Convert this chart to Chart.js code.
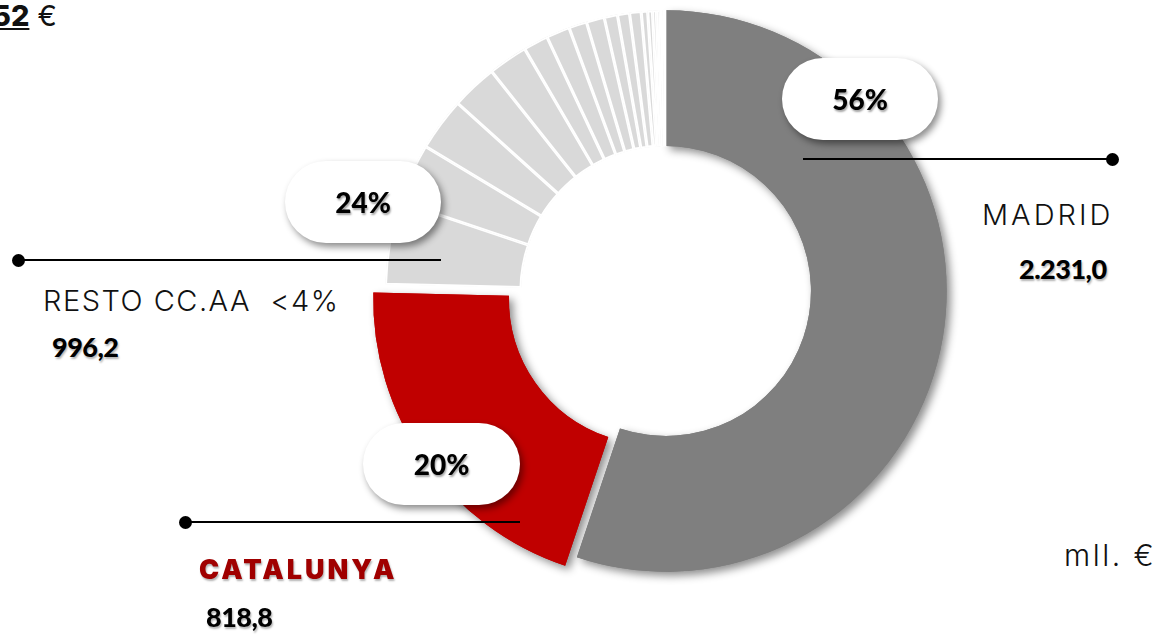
<!DOCTYPE html>
<html>
<head>
<meta charset="utf-8">
<script src="https://cdn.jsdelivr.net/npm/chart.js@4.4.1/dist/chart.umd.min.js"></script>
<style>
  html, body { margin: 0; padding: 0; background: #fff; width: 1157px; height: 639px; overflow: hidden; position: relative; font-family: Lato, sans-serif; }
  #wrap { position: absolute; left: 366px; top: -9px; width: 600px; height: 600px; }
  .pill { position: absolute; background: #fff; border-radius: 42px; box-shadow: 3px 4px 7px rgba(0,0,0,.45);
          display: flex; align-items: center; justify-content: center; font-weight: 900; font-size: 28px; color: #000;
          text-shadow: 1px 2px 2px rgba(0,0,0,.35); }
  .lead { position: absolute; height: 2px; background: #000; }
  .dot { position: absolute; width: 13px; height: 13px; border-radius: 50%; background: #000; }
  .lbl { position: absolute; font-family: Inter, sans-serif; font-weight: 300; font-size: 29px; color: #111; white-space: nowrap; letter-spacing: 1.5px; }
  .val { position: absolute; font-family: Lato, sans-serif; font-weight: 900; font-size: 27px; color: #000; white-space: nowrap;
         text-shadow: 1px 2px 2px rgba(0,0,0,.3); letter-spacing: -0.5px; }
</style>
</head>
<body>
<div id="wrap"><canvas id="donut"></canvas></div>
<div id="overlay"></div>
<script>
// ── data (mll. €) ───────────────────────────────────────────
const mainLabels = ['MADRID', 'CATALUNYA'];
const mainValues = [2231.0, 818.8];
const restoTotal = 996.2;
// small communities making up "RESTO CC.AA <4%"
const restoValues = [193, 140, 124, 107, 92, 58, 55, 42, 42, 31, 28, 27, 15, 11, 9, 8, 7, 7.2];
const restoLabels = restoValues.map((v, i) => 'Resto CC.AA ' + (i + 1));
const pctLabels = ['56%', '20%', '24%'];
const valueLabels = ['2.231,0', '818,8', '996,2'];

const GRAY = '#7f7f7f', RED = '#c00000', LIGHT = '#d9d9d9';

const labels = mainLabels.concat(restoLabels);
const values = mainValues.concat(restoValues);
const colors = [GRAY, RED].concat(restoValues.map(() => LIGHT));
const borders = [0, 0].concat(restoValues.map(() => 1.6));
// chart.js v4 draws offset / 4, so 56 pulls Catalunya out ~14px
const offsets = [0, 56].concat(restoValues.map(() => 0));

// shadow under Madrid and Catalunya
const shadowPlugin = {
  id: 'sliceShadow',
  beforeDatasetsDraw(chart) {
    const ctx = chart.ctx;
    const arcs = chart.getDatasetMeta(0).data;
    [0, 1].forEach(i => {
      ctx.save();
      ctx.shadowColor = 'rgba(0,0,0,0.45)';
      ctx.shadowBlur = 8;
      ctx.shadowOffsetX = 4;
      ctx.shadowOffsetY = 4;
      arcs[i].draw(ctx);
      ctx.restore();
    });
  }
};

new Chart(document.getElementById('donut'), {
  type: 'doughnut',
  data: {
    labels,
    datasets: [{
      data: values,
      backgroundColor: colors,
      borderColor: '#fff',
      borderWidth: borders,
      offset: offsets,
      hoverOffset: 0,
      radius: 281,
      cutout: 140,
      borderAlign: 'inner'
    }]
  },
  options: {
    responsive: true,
    maintainAspectRatio: false,
    animation: false,
    layout: { padding: 0 },
    plugins: { legend: { display: false }, tooltip: { enabled: false } }
  },
  plugins: [shadowPlugin]
});

// ── labels / callouts ───────────────────────────────────────
const ov = document.getElementById('overlay');
const add = (cls, css, html) => {
  const d = document.createElement('div');
  d.className = cls;
  Object.assign(d.style, css);
  if (html != null) d.innerHTML = html;
  ov.appendChild(d);
  return d;
};

// Madrid
add('lead', { left: '803px', top: '158px', width: '310px' });
add('dot', { left: '1106px', top: '153px' });
add('pill', { left: '782px', top: '58px', width: '156px', height: '82px' }, pctLabels[0]);
add('lbl', { left: '982px', top: '197px', letterSpacing: '3px' }, mainLabels[0]);
add('val', { left: '1019px', top: '252px' }, valueLabels[0]);

// Resto
add('lead', { left: '18px', top: '259px', width: '423px' });
add('dot', { left: '12px', top: '254px' });
add('pill', { left: '285px', top: '161px', width: '156px', height: '82px' }, pctLabels[2]);
add('lbl', { left: '43px', top: '283px' }, 'RESTO CC.AA&nbsp;&nbsp;&lt;4%');
add('val', { left: '52px', top: '330px' }, valueLabels[2]);

// Catalunya
add('lead', { left: '185px', top: '521px', width: '335px' });
add('dot', { left: '179px', top: '516px' });
add('pill', { left: '363px', top: '423px', width: '157px', height: '82px' }, pctLabels[1]);
add('lbl', { left: '199px', top: '553px', fontWeight: 900, fontSize: '27px', color: '#a00000', letterSpacing: '3px',
             textShadow: '1px 2px 2px rgba(0,0,0,.3)' }, mainLabels[1]);
add('val', { left: '206px', top: '600px' }, valueLabels[1]);

// unit + clipped total in the corner
add('lbl', { left: '1064px', top: '537px', fontSize: '30px', letterSpacing: '2.5px' }, 'mll. €');
add('lbl', { left: '-8px', top: '-2px', fontWeight: 400, letterSpacing: '0' }, '<b style="font-weight:800;text-decoration:underline">52</b> €');
</script>
</body>
</html>
